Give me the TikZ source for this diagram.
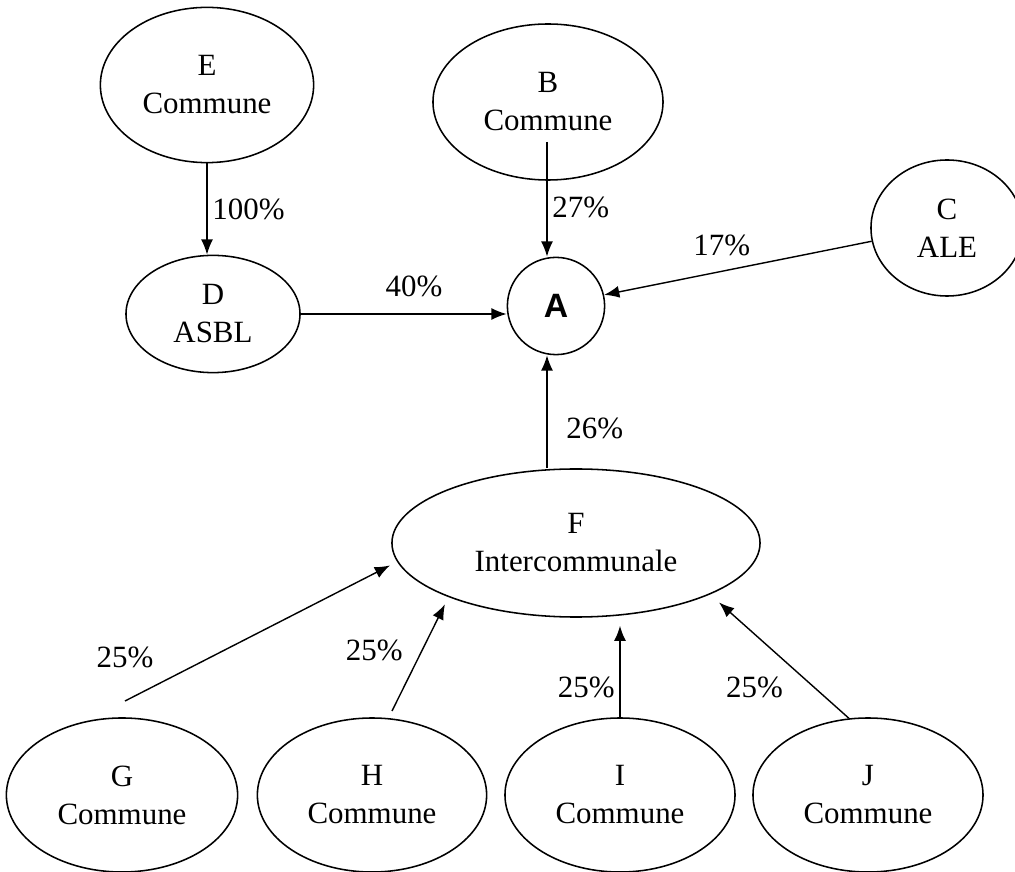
\documentclass[tikz,border=0pt]{standalone}
\usepackage{fontspec}
\setmainfont{Liberation Serif}
\newfontfamily\headfont{Liberation Sans}
\usetikzlibrary{positioning}
\usetikzlibrary{shapes.geometric}
\usetikzlibrary{arrows.meta}
\usetikzlibrary{calc}

\begin{document}
\begin{tikzpicture}[x=0.025cm, y=-0.025cm,
    ent/.style={ellipse, draw, line width=1.1pt, inner sep=0pt, align=center, font=\fontsize{22}{27}\selectfont},
    pct/.style={font=\fontsize{22}{25}\selectfont},
    arr/.style={-{Latex[length=0.38cm,width=0.3cm]}, line width=1pt}]
  \useasboundingbox (0,0) rectangle (1015,872);

  % upper row
  \node[ent, minimum width=5.33cm, minimum height=3.88cm] (E) at (207,85) {E\\Commune};
  \node[ent, minimum width=5.75cm, minimum height=3.9cm] (B) at (548,102) {B\\Commune};
  \node[ent, minimum width=3.8cm, minimum height=3.4cm] (C) at (947,228) {C\\ALE};
  \node[ent, minimum width=4.35cm, minimum height=2.93cm] (D) at (213,314) {D\\ASBL};
  \node[circle, draw, line width=1.1pt, minimum size=2.43cm, inner sep=0pt, font=\headfont\bfseries\fontsize{24}{28}\selectfont] (A) at (556,306) {A};

  % intercommunale and its communes
  \node[ent, minimum width=9.2cm, minimum height=3.7cm] (F) at (576,543) {F\\Intercommunale};
  \node[ent, minimum width=5.78cm, minimum height=3.85cm] (G) at (122,795) {G\\Commune};
  \node[ent, minimum width=5.73cm, minimum height=3.85cm] (H) at (372,795) {H\\Commune};
  \node[ent, minimum width=5.75cm, minimum height=3.85cm] (I) at (620,795) {I\\Commune};
  \node[ent, minimum width=5.75cm, minimum height=3.85cm] (J) at (868,795) {J\\Commune};

  \coordinate (bfoot) at (547,142);
  \coordinate (gfoot) at (125,701);
  \coordinate (hfoot) at (392,711);

  % shares
  \draw[arr] (E.south) -- (E.south |- D.north) node[pct, midway, right] {100\%};
  \draw[arr] (bfoot) -- (bfoot |- A.north) node[pct, pos=0.57, right] {27\%};
  \draw[arr] (C.190) -- (A.13) node[pct, pos=0.56, above=0.25cm] {17\%};
  \draw[arr] (D.east) -- (D.east -| A.west) node[pct, pos=0.55, above=0.3cm] {40\%};
  \draw[arr] (bfoot |- F.north) -- (bfoot |- A.south) node[pct, pos=0.35, right=0.35cm] {26\%};

  \draw[arr, shorten >=0.2cm] (gfoot) -- (F.186) node[pct, at start, above=0.7cm] {25\%};
  \draw[arr, shorten >=0.2cm] (hfoot) -- (F.203.7) node[pct, pos=0.53, left=0.35cm] {25\%};
  \draw[arr, shorten >=0.2cm] (I.north) -- (I.north |- F.south) node[pct, pos=0.3, left] {25\%};
  \draw[arr, shorten >=0.3cm] (J.104) -- (F.-21.5) node[pct, pos=0.25, left=0.65cm] {25\%};
\end{tikzpicture}
\end{document}
